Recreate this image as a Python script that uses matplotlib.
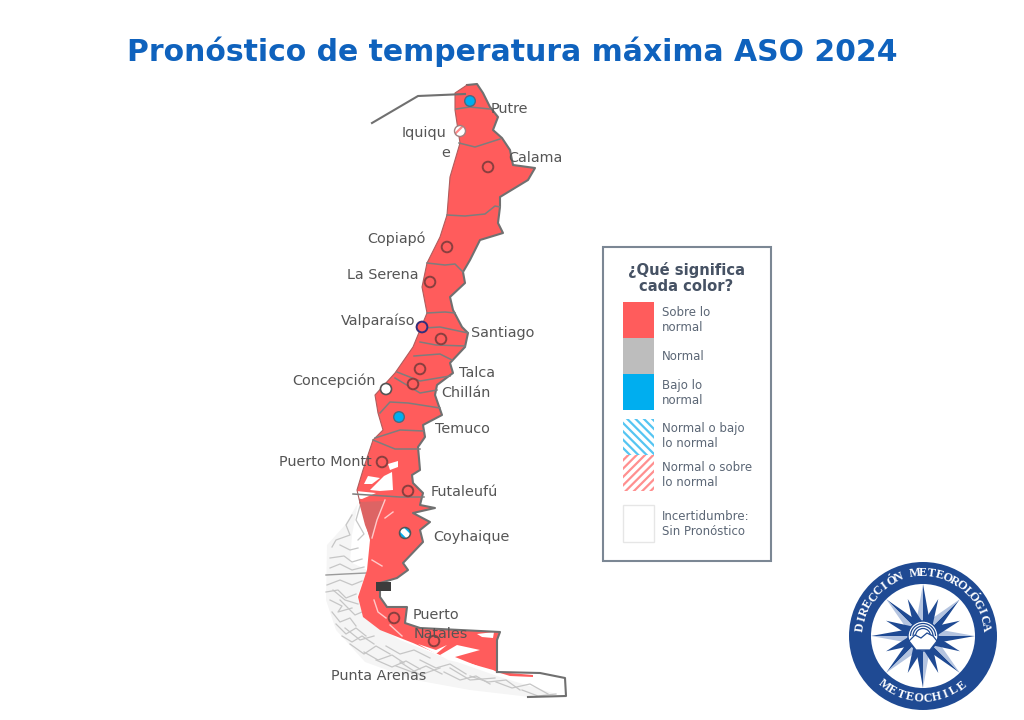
import numpy as np
import matplotlib
matplotlib.use("Agg")
import matplotlib.pyplot as plt
from matplotlib.patches import Polygon, Rectangle, Circle, Arc

# contorno del mapa (x, y en pixeles)
chile_x = [467, 477, 483, 490, 498, 493, 502, 510, 513, 535, 528, 500, 500, 498, 503, 480, 470, 463, 465, 450,
           453, 462, 468, 465, 450, 453, 437, 435, 442, 423, 425, 418, 420, 412, 413, 423, 420, 435, 413, 430,
           420, 423, 403, 408, 397, 380, 380, 387, 407, 405, 420, 500, 497, 497, 493, 440, 413, 380, 363, 358,
           367, 370, 360, 357, 363, 373, 383, 378, 375, 395, 413, 427, 422, 427, 440, 447, 450, 460, 455, 455]
chile_y = [85, 84, 93, 107, 117, 130, 138, 150, 165, 168, 180, 197, 207, 223, 233, 240, 260, 272, 283, 297,
           310, 327, 333, 347, 363, 373, 385, 395, 415, 425, 437, 447, 470, 475, 483, 493, 505, 508, 513, 522,
           530, 542, 563, 570, 578, 583, 597, 607, 607, 623, 628, 632, 640, 672, 670, 655, 643, 630, 617, 597,
           570, 540, 503, 490, 470, 440, 430, 413, 395, 373, 347, 313, 287, 263, 237, 215, 177, 143, 110, 93]
n_este = 54  # puntos de la costa este / frontera

# limites regionales
region_lines = [
    [(456, 109), (470, 107), (490, 109)],
    [(459, 143), (475, 147), (500, 139)],
    [(447, 215), (465, 216), (485, 214), (495, 206), (500, 207)],
    [(427, 263), (445, 265), (455, 264), (463, 272)],
    [(427, 313), (445, 312), (455, 313)],
    [(424, 328), (440, 327), (468, 333)],
    [(420, 342), (436, 345), (465, 346)],
    [(414, 356), (440, 354), (452, 360)],
    [(397, 372), (420, 381), (450, 376)],
    [(395, 378), (420, 393), (437, 390)],
    [(380, 413), (390, 402), (408, 403), (440, 408)],
    [(375, 438), (400, 430), (424, 431)],
    [(373, 440), (395, 449), (420, 449)],
    [(353, 494), (400, 497), (424, 497)],
]
border_line = [(372, 123), (418, 96), (465, 94)]
south_border = [(497, 672), (540, 673), (565, 678), (566, 696), (528, 697)]
linea_aysen = [(326, 575), (345, 574), (366, 573)]

# huecos blancos (fiordos y canales)
holes = [
    [(388, 464), (398, 461), (398, 467), (390, 470)],
    [(368, 476), (380, 478), (372, 484), (364, 484)],
    [(384, 476), (392, 472), (393, 490), (380, 491), (370, 490)],
    [(356, 491), (376, 493), (362, 499), (352, 498)],
    [(477, 634), (494, 632), (493, 638), (482, 637)],
    [(418, 644), (436, 650), (447, 645), (436, 654)],
    [(440, 655), (457, 645), (480, 650), (455, 657), (480, 667), (448, 660)],
]
canales = [[(385, 500), (377, 520), (372, 538)], [(393, 512), (385, 518)], [(372, 560), (382, 566)],
           [(374, 600), (378, 612), (386, 618)], [(390, 625), (402, 636)]]
zona_oscura = [(359, 502), (384, 501), (377, 520), (371, 540), (365, 525)]

# banda de islas al sur
banda_islas = [(358, 503), (345, 525), (327, 545), (326, 600), (336, 630), (365, 662), (415, 680), (470, 690),
               (530, 697), (556, 694), (500, 677), (440, 656), (400, 640), (370, 622), (357, 597), (367, 570),
               (350, 562), (352, 535)]
islands = [
    [(360, 506), (356, 520), (364, 534), (358, 540)],
    [(352, 515), (346, 525), (350, 535), (336, 540), (332, 547)],
    [(340, 545), (350, 550), (358, 548)],
    [(330, 558), (344, 556), (352, 562), (362, 559)],
    [(330, 568), (340, 564), (352, 570), (364, 567)],
    [(327, 585), (340, 580), (352, 585), (362, 581)],
    [(326, 592), (338, 590), (346, 598), (356, 594)],
    [(330, 600), (342, 606), (338, 612), (352, 608)],
    [(332, 612), (340, 622), (350, 618), (356, 626)],
    [(336, 624), (346, 634), (356, 628), (366, 636)],
    [(342, 636), (352, 642), (362, 636), (374, 644)],
    [(350, 644), (364, 654), (376, 646), (390, 654)],
    [(364, 652), (378, 660), (392, 655), (404, 663)],
    [(376, 660), (392, 667), (406, 661), (420, 669)],
    [(396, 666), (412, 672), (426, 666), (442, 674)],
    [(420, 660), (436, 668), (450, 664), (466, 674)],
    [(444, 672), (460, 680), (476, 676), (490, 684)],
    [(470, 676), (488, 682), (506, 680), (520, 690)],
    [(496, 682), (512, 688), (530, 684), (548, 694)],
    [(522, 690), (538, 696), (556, 694)],
    [(345, 628), (360, 640), (374, 636)],
    [(386, 646), (400, 654), (414, 650), (430, 658)],
    [(333, 590), (345, 600), (358, 604)],
    [(340, 600), (355, 615), (362, 612)],
    [(400, 662), (420, 675), (440, 668)],
    [(450, 668), (470, 680), (495, 678)],
]

# estaciones
stations = ["Putre", "Iquique", "Calama", "Copiapó", "La Serena", "Valparaíso", "Santiago", "Talca", "Chillán",
            "Concepción", "Temuco", "Puerto Montt", "Futaleufú", "Coyhaique", "Puerto Natales", "Punta Arenas"]
categoria = ["bajo", "normal_sobre", "sobre", "sobre", "sobre", "sobre", "sobre", "sobre", "sobre",
             "sin", "bajo", "sobre", "sobre", "normal_bajo", "sobre", "sobre"]
est_x = [470, 460, 488, 447, 430, 422, 441, 420, 413, 386, 399, 382, 408, 405, 394, 434]
est_y = [101, 131, 167, 247, 282, 327, 339, 369, 384, 389, 417, 462, 491, 533, 618, 641]

etiquetas = ["Putre", "Iquiqu", "e", "Calama", "Copiapó", "La Serena", "Valparaíso", "Santiago", "Talca", "Chillán",
             "Concepción", "Temuco", "Puerto Montt", "Futaleufú", "Coyhaique", "Puerto", "Natales", "Punta Arenas"]
etq_x = [491, 402, 441, 508, 367, 347, 341, 471, 459, 441, 292, 435, 279, 431, 433, 413, 414, 331]
etq_y = [109, 133, 153, 158, 239, 275, 321, 333, 373, 393, 381, 429, 462, 492, 537, 615, 634, 676]

# leyenda
leyenda_txt = ["Sobre lo\nnormal", "Normal", "Bajo lo\nnormal", "Normal o bajo\nlo normal",
               "Normal o sobre\nlo normal", "Incertidumbre:\nSin Pronóstico"]
leyenda_y = [302, 338, 374, 419, 455, 505]
leyenda_h = [36, 36, 36, 36, 36, 37]
leyenda_txt_y = [320, 356, 393, 436, 475, 524]

ROJO = "#FF5C5C"
GRIS = "#BDBDBD"
AZUL = "#00AEEF"
MARINO = "#1F4A93"
TXT_MAPA = "#555555"
TXT_LEY = "#5B6675"

plt.rcParams["hatch.linewidth"] = 1.6
fig = plt.figure(figsize=(10.24, 7.2), dpi=100)
ax = fig.add_axes([0, 0, 1, 1])
ax.set_xlim(0, 1024)
ax.set_ylim(720, 0)
ax.axis("off")

ax.text(512, 52, "Pronóstico de temperatura máxima ASO 2024", color="#0F62BD", fontsize=21.55,
        fontweight="bold", family="DejaVu Sans", ha="center", va="center")

# mapa
ax.add_patch(Polygon(banda_islas, fc="#f5f5f5", ec="none", zorder=1))
for isla in islands:
    x, y = zip(*isla)
    ax.plot(x, y, color="#c6c6c6", lw=0.9, zorder=1)
x, y = zip(*linea_aysen)
ax.plot(x, y, color="#9a9a9a", lw=1, zorder=1)
ax.add_patch(Polygon(np.column_stack([chile_x, chile_y]), fc=ROJO, ec="none", zorder=2))
ax.add_patch(Polygon([(497, 672), (533, 675), (533, 677), (510, 676)], fc=ROJO, ec="none", zorder=2))
ax.add_patch(Polygon(zona_oscura, fc="#dd6464", ec="none", zorder=3))
for h in holes:
    ax.add_patch(Polygon(h, fc="white", ec="none", zorder=3))
for linea in canales:
    x, y = zip(*linea)
    ax.plot(x, y, color="#ffc9c9", lw=1, zorder=3)
# costa este con borde gris marcado, oeste casi sin borde
ax.plot(chile_x[:n_este], chile_y[:n_este], color="#707070", lw=1.5, zorder=4)
ax.plot(chile_x[62:] + chile_x[:1], chile_y[62:] + chile_y[:1], color="#b05c5c", lw=0.8, zorder=4)
for linea in region_lines:
    x, y = zip(*linea)
    ax.plot(x, y, color="#7d7d7d", lw=1.1, zorder=4)
for linea in [border_line, south_border]:
    x, y = zip(*linea)
    ax.plot(x, y, color="#707070", lw=1.5, zorder=4)
ax.add_patch(Rectangle((376, 582), 15, 9, fc="#3c3c3c", ec="none", zorder=5))

for nombre, cat, x, y in zip(stations, categoria, est_x, est_y):
    if cat == "sobre":
        ax.add_patch(Circle((x, y), 5.3, fc=ROJO, ec="#8a3f3f", lw=1.4, zorder=6))
    elif cat == "bajo":
        ax.add_patch(Circle((x, y), 5.3, fc=AZUL, ec="#4a6a80", lw=1, zorder=6))
    elif cat == "sin":
        ax.add_patch(Circle((x, y), 5.5, fc="white", ec="#555555", lw=1.2, zorder=6))
    elif cat == "normal_sobre":
        ax.add_patch(Circle((x, y), 5.5, fc="white", ec="#FF8A8A", hatch="///", lw=0, zorder=6))
        ax.add_patch(Circle((x, y), 5.5, fc="none", ec="#a08080", lw=1, zorder=7))
    elif cat == "normal_bajo":
        ax.add_patch(Circle((x, y), 5.5, fc="white", ec=AZUL, hatch="\\\\\\", lw=0, zorder=6))
        ax.add_patch(Circle((x, y), 5.5, fc="none", ec="#555555", lw=1.1, zorder=7))
    if nombre == "Valparaíso":
        ax.add_patch(Circle((x, y), 5.3, fc=ROJO, ec="#2f2f80", lw=1.3, zorder=7))

for t, x, y in zip(etiquetas, etq_x, etq_y):
    ax.text(x, y, t, color=TXT_MAPA, fontsize=10.4, ha="left", va="center", zorder=8)

# caja de leyenda
ax.add_patch(Rectangle((603, 247), 168, 314, fc="white", ec="#7b8794", lw=1.5, zorder=1))
ax.text(686, 278, "¿Qué significa\ncada color?", color="#465264", fontsize=10.6, fontweight="bold",
        ha="center", va="center", linespacing=1.15)
estilos = [dict(fc=ROJO, ec="none"), dict(fc=GRIS, ec="none"), dict(fc=AZUL, ec="none"),
           dict(fc="white", ec="#55C5F2", hatch="\\\\\\\\", lw=0), dict(fc="white", ec="#FF9090", hatch="////", lw=0),
           dict(fc="white", ec="#e6e6e6", lw=1)]
for t, y, h, ty, st in zip(leyenda_txt, leyenda_y, leyenda_h, leyenda_txt_y, estilos):
    ax.add_patch(Rectangle((623, y), 31, h, zorder=2, **st))
    ax.text(662, ty, t, color=TXT_LEY, fontsize=8.5, ha="left", va="center", linespacing=1.25)

# logo
cx, cy = 923, 636
ax.add_patch(Circle((cx, cy), 74, fc=MARINO, ec="none", zorder=2))
ax.add_patch(Circle((cx, cy), 52, fc="white", ec="none", zorder=3))

PALIDO = "#b4c4e0"


def polar(r, grados):
    a = np.deg2rad(grados)
    return (cx + r * np.sin(a), cy - r * np.cos(a))


for i in range(8):
    g = 45 * i
    punta = polar(52, g)
    ax.add_patch(Polygon([polar(0, 0), punta, polar(17, g + 22.5)], fc=MARINO, ec="none", zorder=4))
    ax.add_patch(Polygon([polar(0, 0), punta, polar(17, g - 22.5)], fc=PALIDO, ec="none", zorder=4))
for i in range(8):
    g = 22.5 + 45 * i
    ax.add_patch(Polygon([polar(14, g - 20), polar(40, g), polar(14, g + 20)], fc=MARINO, ec="none", zorder=5))

ax.add_patch(Circle((cx, cy), 15, fc="white", ec=MARINO, lw=1, zorder=6))
for r in [12.5, 10, 7.5]:
    ax.add_patch(Arc((cx, cy), 2 * r, 2 * r, theta1=180, theta2=360, color=MARINO, lw=0.9, zorder=7))
ax.add_patch(Polygon([(cx - 14, cy + 5), (cx - 8, cy - 1), (cx - 2, cy + 2), (cx + 4, cy - 3), (cx + 10, cy), (cx + 14, cy + 5),
                      (cx + 7, cy + 14), (cx - 7, cy + 14)], fc="white", ec=MARINO, lw=0.9, zorder=8))


def texto_arco(texto, a_ini, a_fin, radio, arriba=True):
    angs = np.linspace(a_ini, a_fin, len(texto))
    for ch, a in zip(texto, angs):
        r = np.deg2rad(a)
        x = cx + radio * np.cos(r)
        y = cy - radio * np.sin(r)
        rot = a - 90 if arriba else a + 90
        ax.text(x, y, ch, color="white", fontsize=8.8, fontweight="bold", family="Liberation Serif",
                rotation=rot, rotation_mode="anchor", ha="center", va="center", zorder=9)


texto_arco("DIRECCIÓN METEOROLÓGICA", 172, 8, 63)
texto_arco("METEOCHILE", 232, 308, 63, arriba=False)

fig.savefig("out.png", dpi=100)
